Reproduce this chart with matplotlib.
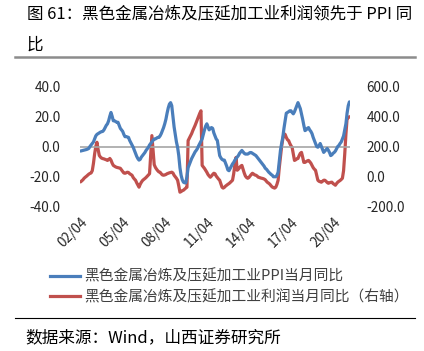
import numpy as np
import matplotlib
matplotlib.use("Agg")
import matplotlib.pyplot as plt
from matplotlib.lines import Line2D

plt.rcParams["font.family"] = ["Noto Sans CJK SC", "DejaVu Sans"]

# monthly, 2002/04 onwards
TICK_LABELS = ["02/04", "05/04", "08/04", "11/04", "14/04", "17/04", "20/04"]

# 黑色金属冶炼及压延加工业 PPI 当月同比 (%)
ppi = [
    -3, -2.8, -2.6, -2.4, -2.2, -2, -1.7, -1.3, 0, 1, 2, 3,
    5, 7, 8, 8.5, 9, 9.5, 9.8, 10, 11, 12.5, 14, 15,
    17, 20, 22.5, 20, 17, 17, 16.5, 16, 16, 14, 12, 11,
    10, 8, 6.5, 6.5, 6.3, 6, 4, 2.5, 1, -0.5, -2.5, -4.5,
    -6.5, -8, -9, -8.5, -7, -6, -5, -4, -2.6, -1.5, -0.5, 1,
    2, 3, 4, 5, 5, 5.5, 6, 6, 7, 8.5, 10.5, 12.5,
    15, 18, 22, 25.5, 28, 29, 27, 20, 13, 8, 3, -0.5,
    -6, -14, -19, -22, -23.6, -24, -24, -20, -14, -12, -10, -8,
    -6.5, -5, -3.5, -2.5, -1.3, 0.5, 2, 3.5, 5, 8, 11, 13.5,
    15, 13, 11, 12, 12.5, 12, 9, 7, 5, 4, -1, -6,
    -7.5, -8.5, -9, -9, -11, -13, -15.5, -16, -14.5, -13, -11.5, -10.5,
    -9, -8, -7, -6, -4.5, -3.5, -2.6, -3.5, -4.5, -5, -5, -5,
    -4.5, -4, -4, -4.5, -5, -5.5, -6, -7, -8, -9, -10, -11,
    -12, -13, -14.4, -15, -16, -17, -17.7, -18.5, -19, -20, -20, -20,
    -19, -17, -10, -2.6, 2, 6, 12, 17, 22, 22.5, 23, 23.6,
    23.6, 22.5, 21.6, 23, 25, 27, 29, 27, 25, 21.6, 18, 14,
    10.5, 11, 12, 12.5, 11, 10, 8.5, 6, 4, 2, 0, -0.5,
    0.5, 2, 0, -2, -3.9, -3, -2, -1.3, -2.5, -4, -6, -5.5,
    -4.5, -3.9, -3, -1.5, 0, 0.7, 2, 3, 5, 7, 11, 15,
    22, 27, 29.5,
]

# 黑色金属冶炼及压延加工业利润当月同比 (%), right axis
profit = [
    -34, -27, -20, -10, -3, 3, 10, 17, 22, 25, 40, 88,
    150, 200, 228, 180, 141, 130, 123, 120, 118, 115, 112, 108,
    113, 121, 110, 90, 75, 70, 65, 62, 60, 58, 56, 45,
    35, 25, 23, 26, 30, 28, 20, 15, 10, -5, -15, -23,
    -40, -55, -69, -50, -36, -25, -18, -12, -5, 3, 10, 20,
    150, 272, 180, 80, 62, 50, 40, 32, 30, 20, 12, 10,
    12, 15, 20, 23, 26, 28, 30, 25, 10, 0, -10, -23,
    -60, -102, -98, -92, -89, -82, -75, -69, 239, 255, 270, 285,
    305, 322, 340, 360, 380, 400, 420, 436, 75, 65, 55, 43,
    30, 15, 5, -3, 5, 15, 23, 20, 5, -5, -15, -23,
    -45, -69, -75, -70, -62, -56, -50, -45, -38, -30, -23, 20,
    80, 128, 43, 50, 60, 70, 75, 50, 25, 5, -5, -10,
    -5, 5, 15, 23, 18, 12, 10, 5, -3, -5, -8, -10,
    -12, -15, -20, -30, -38, -43, -50, -60, -68, -72, -75, -69,
    -50, -23, 60, 128, 200, 250, 285, 280, 260, 245, 239, 220,
    205, 193, 150, 108, 112, 118, 121, 140, 155, 161, 130, 95,
    95, 100, 105, 108, 100, 90, 75, 60, 50, 43, 10, -23,
    -30, -33, -36, -30, -23, -23, -30, -38, -43, -40, -37, -36,
    -45, -50, -56, -45, -36, -30, -25, -18, -10, 40, 150, 280,
    384, 390, 397,
]

LABEL_PPI = "黑色金属冶炼及压延加工业PPI当月同比"
LABEL_PROFIT = "黑色金属冶炼及压延加工业利润当月同比（右轴）"

BLUE = "#4a7ebb"
RED = "#c0504d"
TXT = "#262626"

W, H = 424, 351
fig = plt.figure(figsize=(W / 100, H / 100), dpi=100)
ax = fig.add_axes([80 / W, 1 - 207 / H, 270 / W, 121 / H])
ax2 = ax.twinx()

x = np.arange(len(ppi))
ax.axhline(0, color="#a6a6a6", lw=1.2, zorder=1)
ax.plot(x, ppi, color=BLUE, lw=2.3, zorder=3, solid_capstyle="round")
ax2.plot(x, profit, color=RED, lw=2.3, zorder=2, solid_capstyle="round")
ax.set_zorder(ax2.get_zorder() + 1)
ax.patch.set_visible(False)

ax.set_xlim(-0.5, len(ppi) - 0.5)
ax.set_ylim(-40, 40)
ax2.set_ylim(-200, 600)
ax.set_yticks([-40, -20, 0, 20, 40])
ax.set_yticklabels([f"{v:.1f}" for v in [-40, -20, 0, 20, 40]])
ax2.set_yticks([-200, 0, 200, 400, 600])
ax2.set_yticklabels([f"{v:.1f}" for v in [-200, 0, 200, 400, 600]])

tick_pos = [i * 36 for i in range(len(TICK_LABELS))]
ax.set_xticks(tick_pos)
ax.set_xticklabels(TICK_LABELS, rotation=45, ha="right", rotation_mode="anchor")

for a in (ax, ax2):
    for sp in a.spines.values():
        sp.set_visible(False)
    a.tick_params(length=0, labelsize=9.8, colors=TXT)
ax.tick_params(axis="y", pad=14)
ax.tick_params(axis="x", pad=6)
ax2.tick_params(axis="y", pad=12)

fig.text(27 / W, 1 - 14 / H, "图 61：黑色金属冶炼及压延加工业利润领先于 PPI 同",
         fontsize=11.9, va="center", ha="left", color="black")
fig.text(27 / W, 1 - 45 / H, "比", fontsize=11.9, va="center", ha="left", color="black")
fig.add_artist(Line2D([15 / W, 415 / W], [1 - 57 / H, 1 - 57 / H],
                      color="#8c8c8c", lw=1.8))
fig.add_artist(Line2D([15 / W, 415 / W], [1 - 318 / H, 1 - 318 / H],
                      color="black", lw=0.8))
fig.text(25 / W, 1 - 338 / H, "数据来源：Wind，山西证券研究所",
         fontsize=12, va="center", ha="left", color="black")

handles = [Line2D([], [], color=BLUE, lw=2.3), Line2D([], [], color=RED, lw=2.3)]
fig.legend(handles, [LABEL_PPI, LABEL_PROFIT], loc="upper left",
           bbox_to_anchor=(37 / W, 1 - 256 / H), frameon=False, fontsize=10.6,
           handlelength=2.0, handletextpad=0.3, labelspacing=0.4,
           labelcolor="#404040")

fig.savefig("out.png", dpi=100)
